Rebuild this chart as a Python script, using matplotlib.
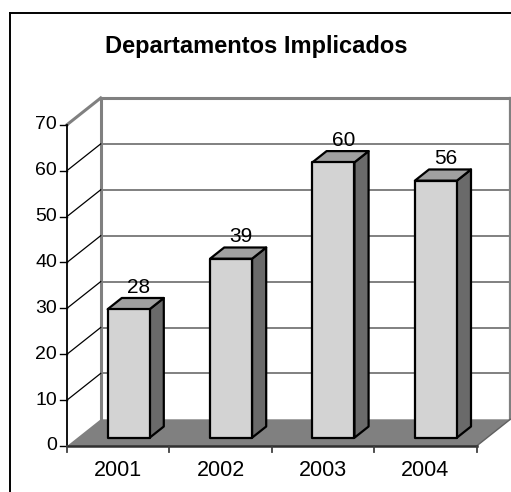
import matplotlib
matplotlib.use("Agg")
import matplotlib.pyplot as plt
from matplotlib.patches import Polygon
import numpy as np

plt.rcParams['font.family'] = ['Liberation Sans', 'DejaVu Sans']

# ---- data ----
title = "Departamentos Implicados"
categories = ["2001", "2002", "2003", "2004"]
values = [28, 39, 60, 56]
yticks = [0, 10, 20, 30, 40, 50, 60, 70]

# ---- layout / style ----
W, H, DPI = 511, 492, 100
XPX0, XSCALE = 67.0, 102.4     # px of category boundary 0, px per category
YPX0, YSCALE = 446.0, 4.59     # px (from top) of value 0, px per unit
DX = 33.7 / XSCALE             # depth offset in category units
DY = 26.7 / YSCALE             # depth offset in value units
YMAX = 70
BAR_W = 0.41
D_FRONT, D_BACK = 0.31, 0.73

FRONT_C, TOP_C, SIDE_C = '#D3D3D3', '#A0A0A0', '#6A6A6A'
FLOOR_C = '#808080'
WALL_EDGE = '#808080'

fig = plt.figure(figsize=(W / DPI, H / DPI), dpi=DPI)
ax = fig.add_axes([0, 0, 1, 1])
ax.set_xlim(-XPX0 / XSCALE, (W - XPX0) / XSCALE)
ax.set_ylim((YPX0 - H) / YSCALE, YPX0 / YSCALE)
ax.axis('off')

n = len(categories)
px_x = 1.0 / XSCALE
px_y = 1.0 / YSCALE

# outer frame (figure coords)
fig.add_artist(plt.Line2D([10 / W, 10 / W], [0, 1 - 13 / H], color='black', lw=1.4))
fig.add_artist(plt.Line2D([10 / W, 1], [1 - 13 / H, 1 - 13 / H], color='black', lw=1.4))

# back wall gridlines
for t in yticks[1:-1]:
    ax.plot([DX, n + DX], [t + DY, t + DY], color='#808080', lw=1.4, zorder=1)
# back wall edges
ax.plot([DX, n + DX], [YMAX + DY, YMAX + DY], color=WALL_EDGE, lw=2.2, zorder=2)
ax.plot([DX, DX], [DY, YMAX + DY], color=WALL_EDGE, lw=2.2, zorder=2)
ax.plot([n + DX, n + DX], [DY, YMAX + DY], color=WALL_EDGE, lw=1.6, zorder=2)
# left side wall gridlines
for t in yticks[1:-1]:
    ax.plot([0, DX], [t, t + DY], color='black', lw=0.9, zorder=2)
ax.plot([0, DX], [YMAX, YMAX + DY], color=WALL_EDGE, lw=2.2, zorder=2)

# floor
floor = Polygon([(0, 0), (n, 0), (n + DX, DY), (DX, DY)], closed=True,
                facecolor=FLOOR_C, edgecolor='none', zorder=3)
ax.add_patch(floor)
ax.plot([n, n + DX], [0, DY], color='#606060', lw=1.0, zorder=3)

# axes lines
ax.plot([0, 0], [0, YMAX], color='black', lw=1.3, zorder=4)
ax.plot([0, n], [0, 0], color='#303030', lw=1.8, zorder=4)

# y ticks & labels
for t in yticks:
    ax.plot([-7 * px_x, 0], [t, t], color='black', lw=1.0, zorder=4)
    ax.text(-10 * px_x, t, str(t), ha='right', va='center', fontsize=14, color='black')

# x ticks & labels
for i in range(n + 1):
    ax.plot([i, i], [0, -6 * px_y], color='#404040', lw=1.3, zorder=4)
for i, c in enumerate(categories):
    ax.text(i + 0.5, -24.5 * px_y, c, ha='center', va='center', fontsize=15.5, color='black')

# bars
for i, v in enumerate(values):
    x0 = i + 0.5 - BAR_W / 2
    x1 = i + 0.5 + BAR_W / 2
    fx, fy = D_FRONT * DX, D_FRONT * DY
    bx, by = D_BACK * DX, D_BACK * DY
    front = [(x0 + fx, fy), (x1 + fx, fy), (x1 + fx, v + fy), (x0 + fx, v + fy)]
    top = [(x0 + fx, v + fy), (x1 + fx, v + fy), (x1 + bx, v + by), (x0 + bx, v + by)]
    side = [(x1 + fx, fy), (x1 + bx, by), (x1 + bx, v + by), (x1 + fx, v + fy)]
    for poly, col in ((side, SIDE_C), (top, TOP_C), (front, FRONT_C)):
        ax.add_patch(Polygon(poly, closed=True, facecolor=col, edgecolor='black',
                             lw=1.6, joinstyle='round', zorder=5))
    ax.text(i + 0.6 + 0.6 * DX - 0.1, v + by + 5 * px_y, str(v), ha='center', va='baseline',
            fontsize=15, color='black', zorder=6)

# title
ax.text((256 - XPX0) / XSCALE, (YPX0 - 53.3) / YSCALE, title, ha='center', va='baseline',
        fontsize=17, fontweight='bold', color='black')

fig.savefig('out.png', dpi=DPI)
